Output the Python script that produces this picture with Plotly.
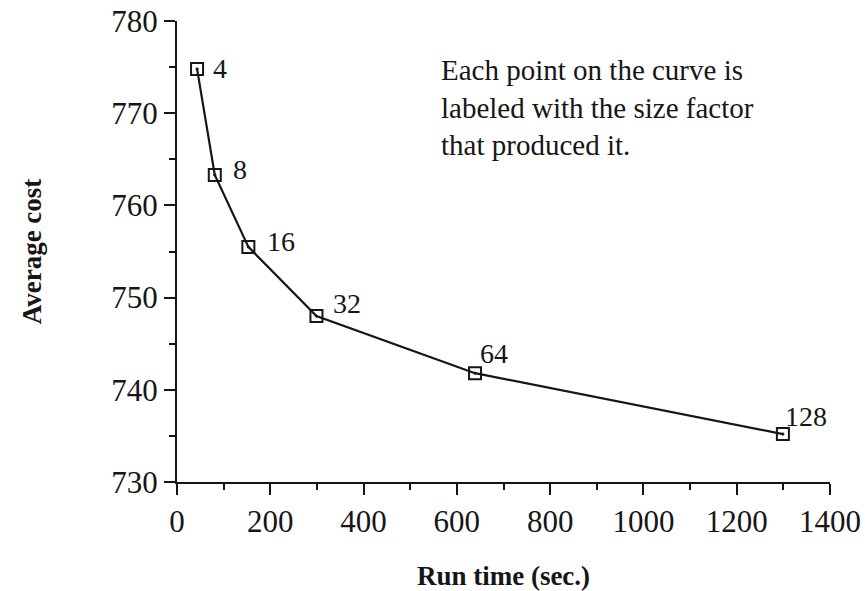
import plotly.graph_objects as go

run_time = [43, 81, 153, 299, 639, 1299]
avg_cost = [774.8, 763.3, 755.5, 748.0, 741.8, 735.2]
size_factor = ["4", "8", "16", "32", "64", "128"]
label_dx = [14, 16, 17, 15, 3, 0]
label_dy = [0, -5, -5, -13, -20, -18]

x_ticks = [0, 200, 400, 600, 800, 1000, 1200, 1400]
y_ticks = [730, 740, 750, 760, 770, 780]

FONT = "Liberation Serif"
INK = "#161616"

fig = go.Figure()
fig.add_trace(go.Scatter(
    x=run_time, y=avg_cost, mode="lines+markers",
    line=dict(color=INK, width=2.2),
    marker=dict(symbol="square-open-dot", size=12, color=INK,
                line=dict(color=INK, width=2)),
    showlegend=False, hoverinfo="x+y",
))

for xv, yv, lab, dx, dy in zip(run_time, avg_cost, size_factor, label_dx, label_dy):
    fig.add_annotation(x=xv, y=yv, text=lab, showarrow=True, arrowcolor="rgba(0,0,0,0)",
                       ax=dx, ay=dy, xanchor="left", yanchor="middle",
                       font=dict(family=FONT, size=28, color=INK))

fig.add_annotation(
    xref="paper", yref="paper", x=0.401, y=0.932, xanchor="left", yanchor="top",
    align="left", showarrow=False,
    text="Each point on the curve is<br>labeled with the size factor<br>that produced it.",
    font=dict(family=FONT, size=29, color=INK),
)

axis_common = dict(
    showline=True, linecolor=INK, linewidth=2, showgrid=False, zeroline=False,
    ticks="outside", ticklen=11, tickwidth=2, tickcolor=INK,
    tickfont=dict(family=FONT, size=31, color=INK),
    minor=dict(ticks="outside", ticklen=6, tickwidth=2, tickcolor=INK, showgrid=False),
)

fig.update_xaxes(range=[0, 1400], tickvals=x_ticks, ticktext=[str(v) for v in x_ticks],
                 minor_dtick=100, minor_tick0=0,
                 title=dict(text="<b>Run time (sec.)</b>", standoff=28,
                            font=dict(family=FONT, size=27, color=INK)),
                 **axis_common)
fig.update_yaxes(range=[730, 780], tickvals=y_ticks, ticktext=[str(v) for v in y_ticks],
                 minor_dtick=5, minor_tick0=730,
                 title=dict(text="<b>Average cost</b>", standoff=62,
                            font=dict(family=FONT, size=27, color=INK)),
                 **axis_common)

fig.update_layout(
    width=866, height=591,
    margin=dict(l=177, r=36, t=21, b=109, autoexpand=False),
    plot_bgcolor="white", paper_bgcolor="white",
)

fig.write_html("out.html")
